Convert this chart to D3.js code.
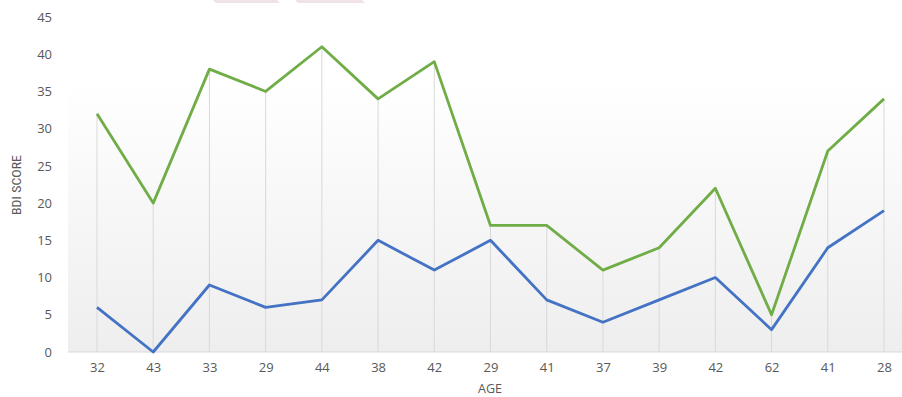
<!DOCTYPE html>
<html>
<head>
<meta charset="utf-8">
<script src="https://cdn.jsdelivr.net/npm/d3@7"></script>
<style>
  body { margin: 0; background: #fff; }
  svg { display: block; }
  .tick text { font-family: "Open Sans", "DejaVu Sans", sans-serif; fill: #595959; }
</style>
</head>
<body>
<div id="chart"></div>
<script>
const ages = ["32","43","33","29","44","38","42","29","41","37","39","42","62","41","28"];
const bdiHigh = [32, 20, 38, 35, 41, 34, 39, 17, 17, 11, 14, 22, 5, 27, 34];
const bdiLow = [6, 0, 9, 6, 7, 15, 11, 15, 7, 4, 7, 10, 3, 14, 19];
const yTicks = [0, 5, 10, 15, 20, 25, 30, 35, 40, 45];

const W = 902, H = 397;
const svg = d3.select("#chart").append("svg")
  .attr("width", W).attr("height", H);

const idx = d3.range(ages.length);
const x = d3.scalePoint().domain(idx).range([97, 884]);
const y = d3.scaleLinear().domain([0, 45]).range([352, 17]);

const defs = svg.append("defs");
const grad = defs.append("linearGradient")
  .attr("id", "bg").attr("x1", 0).attr("y1", 0).attr("x2", 0).attr("y2", 1);
grad.append("stop").attr("offset", "0%").attr("stop-color", "#ffffff");
grad.append("stop").attr("offset", "100%").attr("stop-color", "#eeeeee");

// faint shapes at top edge (cut-off legend)
svg.selectAll(".cut")
  .data([[213, 277], [295, 362]])
  .enter().append("polygon")
  .attr("class", "cut")
  .attr("points", d => `${d[0]},0 ${d[1]},0 ${d[1] + 3},3 ${d[0] + 3},3`)
  .attr("fill", "#efe3e5");

// plot background
svg.append("rect")
  .attr("x", 68).attr("y", 80)
  .attr("width", W - 68).attr("height", y(0) - 80)
  .attr("fill", "url(#bg)");

// drop lines
svg.selectAll(".drop")
  .data(idx)
  .enter().append("line")
  .attr("class", "drop")
  .attr("x1", i => x(i)).attr("x2", i => x(i))
  .attr("y1", i => y(Math.max(bdiHigh[i], bdiLow[i])))
  .attr("y2", y(0))
  .attr("stroke", "#d9d9d9").attr("stroke-width", 1);

// baseline
svg.append("line")
  .attr("x1", 68).attr("x2", W)
  .attr("y1", y(0)).attr("y2", y(0))
  .attr("stroke", "#d9d9d9");

// y axis
const yAxis = svg.append("g")
  .attr("transform", "translate(52,0)")
  .call(d3.axisLeft(y).tickValues(yTicks).tickSize(0).tickPadding(0));
yAxis.select(".domain").remove();
yAxis.selectAll("text").attr("font-size", 13);

// x axis
const xAxis = svg.append("g")
  .attr("transform", `translate(0,${y(0)})`)
  .call(d3.axisBottom(x).tickSize(0).tickPadding(11).tickFormat(i => ages[i]));
xAxis.select(".domain").remove();
xAxis.selectAll("text").attr("font-size", 13);

// axis titles
svg.append("text")
  .attr("x", 490).attr("y", 393)
  .attr("text-anchor", "middle")
  .attr("font-family", "Open Sans, sans-serif")
  .attr("font-size", 12.5).attr("fill", "#595959")
  .text("AGE");

svg.append("text")
  .attr("transform", "translate(18,185) rotate(-90)")
  .attr("text-anchor", "middle")
  .attr("dominant-baseline", "middle")
  .attr("font-family", "Liberation Sans Narrow, Roboto Condensed, Roboto, sans-serif")
  .attr("font-size", 12).attr("fill", "#595959")
  .attr("textLength", 60).attr("lengthAdjust", "spacingAndGlyphs")
  .text("BDI SCORE");

// lines
const line = d3.line().x((d, i) => x(i)).y(d => y(d));

svg.append("path")
  .datum(bdiHigh)
  .attr("fill", "none")
  .attr("stroke", "#70ad47")
  .attr("stroke-width", 2.8)
  .attr("stroke-linejoin", "round")
  .attr("d", line);

svg.append("path")
  .datum(bdiLow)
  .attr("fill", "none")
  .attr("stroke", "#4472c4")
  .attr("stroke-width", 2.8)
  .attr("stroke-linejoin", "round")
  .attr("d", line);
</script>
</body>
</html>
